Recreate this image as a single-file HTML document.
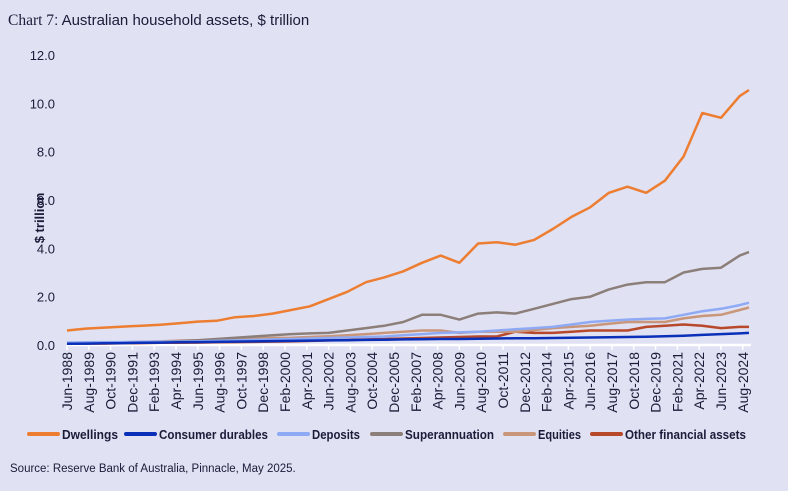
<!DOCTYPE html>
<html><head><meta charset="utf-8"><style>
body{margin:0;background:#e0e1f2;font-family:"Liberation Sans",sans-serif;}
#wrap{position:relative;width:788px;height:491px;overflow:hidden;}
</style></head><body>
<div id="wrap">
<svg id="svg" width="788" height="491"></svg>
</div>
<script>
const years=[1988,1989,1990,1991,1992,1993,1994,1995,1996,1997,1998,1999,2000,2001,2002,2003,2004,2005,2006,2007,2008,2009,2010,2011,2012,2013,2014,2015,2016,2017,2018,2019,2020,2021,2022,2023,2024,2024.5];
const dwellings=[0.6,0.68,0.72,0.76,0.8,0.84,0.9,0.97,1.0,1.15,1.2,1.3,1.45,1.6,1.9,2.2,2.6,2.8,3.05,3.4,3.7,3.4,4.2,4.25,4.15,4.35,4.8,5.3,5.7,6.3,6.55,6.3,6.8,7.8,9.6,9.4,10.3,10.55];
const durables=[0.05,0.06,0.07,0.08,0.09,0.1,0.11,0.12,0.13,0.14,0.15,0.16,0.17,0.18,0.19,0.2,0.21,0.22,0.23,0.24,0.25,0.25,0.26,0.27,0.28,0.28,0.29,0.3,0.31,0.32,0.33,0.34,0.36,0.38,0.42,0.45,0.48,0.5];
const deposits=[0.1,0.11,0.12,0.12,0.13,0.14,0.14,0.15,0.17,0.19,0.21,0.23,0.25,0.27,0.29,0.31,0.33,0.35,0.4,0.45,0.5,0.52,0.55,0.6,0.65,0.7,0.75,0.85,0.95,1.0,1.05,1.08,1.1,1.25,1.4,1.5,1.65,1.75];
const superann=[0.05,0.06,0.07,0.08,0.1,0.13,0.16,0.2,0.25,0.3,0.35,0.4,0.45,0.48,0.5,0.6,0.7,0.8,0.95,1.25,1.25,1.05,1.3,1.35,1.3,1.5,1.7,1.9,2.0,2.3,2.5,2.6,2.6,3.0,3.15,3.2,3.7,3.85];
const equities=[0.05,0.07,0.09,0.11,0.13,0.15,0.18,0.2,0.22,0.25,0.27,0.29,0.3,0.33,0.36,0.4,0.45,0.5,0.55,0.6,0.6,0.5,0.55,0.55,0.55,0.62,0.7,0.75,0.8,0.88,0.95,0.95,0.95,1.1,1.2,1.25,1.45,1.55];
const other=[0.05,0.06,0.06,0.07,0.08,0.09,0.09,0.1,0.11,0.12,0.13,0.14,0.15,0.17,0.19,0.21,0.23,0.25,0.27,0.29,0.31,0.33,0.35,0.35,0.55,0.5,0.5,0.55,0.6,0.6,0.6,0.75,0.8,0.85,0.8,0.7,0.75,0.75];
const yTicks=[0,2,4,6,8,10,12];
const xTickLabels=["Jun-1988","Aug-1989","Oct-1990","Dec-1991","Feb-1993","Apr-1994","Jun-1995","Aug-1996","Oct-1997","Dec-1998","Feb-2000","Apr-2001","Jun-2002","Aug-2003","Oct-2004","Dec-2005","Feb-2007","Apr-2008","Jun-2009","Aug-2010","Oct-2011","Dec-2012","Feb-2014","Apr-2015","Jun-2016","Aug-2017","Oct-2018","Dec-2019","Feb-2021","Apr-2022","Jun-2023","Aug-2024"];
const seriesNames=["Dwellings","Consumer durables","Deposits","Superannuation","Equities","Other financial assets"];
const seriesData=[dwellings,durables,deposits,superann,equities,other];
const colors=["#ed7d31","#0a2fb8","#8faaf5","#8c7f7a","#c9967a","#b8482a"];
const NS="http://www.w3.org/2000/svg";
const svg=document.getElementById('svg');
const X0=67,X1=749,Y0=345,Y1=55;
const span=36.5;
function xs(y){return X0+(y-1988)*(X1-X0)/span;}
function ys(v){return Y0-(v/12)*(Y0-Y1);}
function mk(t,a){const e=document.createElementNS(NS,t);for(const k in a)e.setAttribute(k,a[k]);svg.appendChild(e);return e;}
let t=mk('text',{x:8,y:25,'font-size':15.5,fill:'#1b1b3a','font-family':'Liberation Serif, serif'});t.textContent='Chart 7';

let ts=document.createElementNS(NS,'tspan');ts.setAttribute('font-family','Liberation Sans, sans-serif');ts.setAttribute('font-size','15');ts.textContent=': Australian household assets, $ trillion';t.appendChild(ts);
yTicks.forEach(v=>{const e=mk('text',{x:55,y:ys(v)+5,'text-anchor':'end','font-size':13,fill:'#1b1b3a'});e.textContent=v.toFixed(1);
});
let yt=mk('text',{x:0,y:0,transform:'translate(44,218) rotate(-90)','text-anchor':'middle','font-size':13,'font-weight':'bold',fill:'#1b1b3a'});yt.textContent='$ trillion';

let ax=mk('line',{x1:X0,x2:X1+2,y1:Y0,y2:Y0,stroke:'#fff','stroke-width':2.5});

xTickLabels.forEach((l,i)=>{const x=X0+i*14*(X1-X0)/(12*span);
const tk=mk('line',{x1:x,x2:x,y1:Y0,y2:Y0+5,stroke:'#fff','stroke-width':1.5});

const e=mk('text',{x:0,y:0,transform:`translate(${x+5},${Y0+7}) rotate(-90)`,'text-anchor':'end','font-size':14,fill:'#1b1b3a'});e.textContent=l;
});
[5,4,3,2,1,0].forEach(i=>{const d=seriesData[i].map((v,j)=>(j?'L':'M')+xs(years[j]).toFixed(1)+','+ys(v).toFixed(1)).join('');
const p=mk('path',{d:d,fill:'none',stroke:colors[i],'stroke-width':2.5,'stroke-linejoin':'round'});
});
const lx=[29,126,279,372,505,592];
const lw=[56,109,48,89,43,121];
seriesNames.forEach((n,i)=>{const g=mk('line',{x1:lx[i],x2:lx[i]+29,y1:434,y2:434,stroke:colors[i],'stroke-width':4,'stroke-linecap':'round'});

const e=mk('text',{x:lx[i]+33,y:439,'font-size':13,'font-weight':'bold',fill:'#1b1b3a',textLength:lw[i],lengthAdjust:'spacingAndGlyphs'});e.textContent=n;
});
let s=mk('text',{x:10,y:472,'font-size':11.5,fill:'#1b1b3a'});s.textContent='Source: Reserve Bank of Australia, Pinnacle, May 2025.';

</script>
</body></html>
